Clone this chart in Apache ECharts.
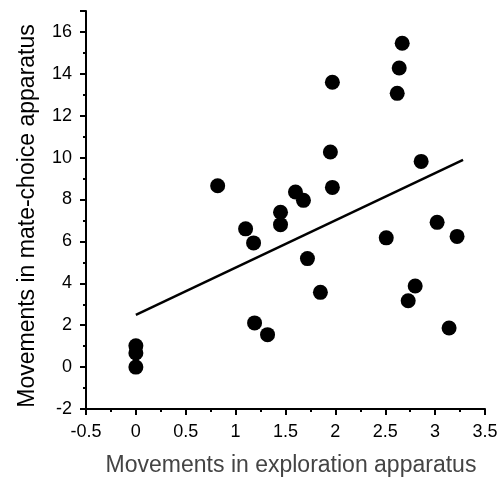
<!DOCTYPE html>
<html>
<head>
<meta charset="utf-8">
<script src="https://cdn.jsdelivr.net/npm/echarts@6/dist/echarts.min.js"></script>
<style>
html,body{margin:0;padding:0;background:#fff;}
#chart{width:501px;height:478px;}
</style>
</head>
<body>
<div id="chart"></div>
<script>
// Data
var explorationMoves = [0, 0, 0, 0.82, 1.10, 1.18, 1.19, 1.32, 1.45, 1.45, 1.60, 1.68, 1.72, 1.85, 1.95, 1.97, 1.97, 2.51, 2.62, 2.64, 2.67, 2.73, 2.80, 2.86, 3.02, 3.14, 3.22];
var mateChoiceMoves = [0.0, 0.67, 1.02, 8.66, 6.6, 5.93, 2.11, 1.55, 7.39, 6.80, 8.36, 7.96, 5.18, 3.57, 10.27, 13.6, 8.58, 6.17, 13.07, 14.28, 15.46, 3.17, 3.87, 9.82, 6.91, 1.87, 6.24];
var fitLineX = [0, 3.28];
var fitLineY = [2.49, 9.89];
var xTitle = 'Movements in exploration apparatus';
var yTitle = 'Movements in mate-choice apparatus';

var points = explorationMoves.map(function(x, i){ return [x, mateChoiceMoves[i]]; });
var fit = fitLineX.map(function(x, i){ return [x, fitLineY[i]]; });

var chart = echarts.init(document.getElementById('chart'), null, {renderer:'canvas'});
var axisCommon = {
  axisLine: {show:true, onZero:false, lineStyle:{color:'#000', width:2}},
  axisTick: {show:true, inside:false, length:6, lineStyle:{color:'#000', width:2}},
  minorTick: {show:true, splitNumber:2, length:3, lineStyle:{color:'#000', width:2}},
  splitLine: {show:false},
  axisLabel: {color:'#000', fontSize:18, fontFamily:'Liberation Sans, Arial, sans-serif'}
};
chart.setOption({
  animation:false,
  backgroundColor:'#fff',
  grid:{left:86, right:16, top:11, bottom:69, containLabel:false},
  xAxis: Object.assign({}, axisCommon, {
    type:'value', min:-0.5, max:3.5, interval:0.5,
    axisLabel: Object.assign({}, axisCommon.axisLabel, {margin:14})
  }),
  yAxis: Object.assign({}, axisCommon, {
    type:'value', min:-2, max:17, interval:2,
    axisLabel: Object.assign({}, axisCommon.axisLabel, {margin:14, showMaxLabel:false})
  }),
  graphic:[
    {type:'text', x:291, y:466, style:{text:xTitle, fill:'#444', font:'23px "Liberation Sans", Arial, sans-serif', textAlign:'center', textVerticalAlign:'middle'}},
    {type:'text', x:28, y:216, rotation:Math.PI/2, style:{text:yTitle, fill:'#000', font:'23px "Liberation Sans", Arial, sans-serif', textAlign:'center', textVerticalAlign:'middle'}}
  ],
  series:[
    {type:'line', data:fit, symbol:'none', lineStyle:{color:'#000', width:2.5}, silent:true, z:1},
    {type:'scatter', data:points, symbol:'circle', symbolSize:15, itemStyle:{color:'#000', opacity:1}, z:2}
  ]
});
</script>
</body>
</html>
